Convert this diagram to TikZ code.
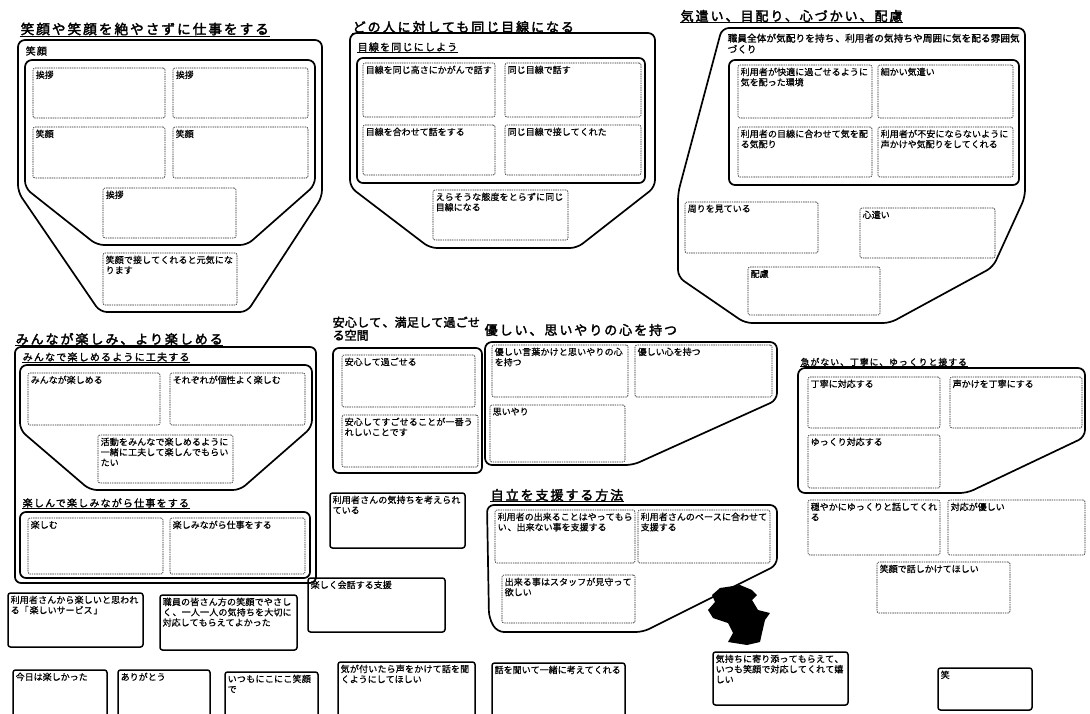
\documentclass[tikz,border=0pt]{standalone}
\usepackage{fontspec}
\newfontfamily\jt[FakeBold=2.5,LetterSpace=15]{Noto Sans CJK JP}
\newfontfamily\jl[FakeBold=1.5,LetterSpace=12]{Noto Sans CJK JP}
\newfontfamily\jb[FakeBold=0.6,LetterSpace=10]{Noto Sans CJK JP}
\XeTeXlinebreaklocale "ja"
\XeTeXlinebreakskip=0pt plus 1pt
\tikzset{
  thick outline/.style={line width=1.7pt,rounded corners=7pt},
  dbox/.style={draw=black!85,line width=0.65pt,dash pattern=on 1.4pt off 0.9pt,rounded corners=2pt,inner sep=0pt,outer sep=0pt},
  sbox/.style={draw=black,line width=1.5pt,rounded corners=2.5pt,inner sep=0pt,outer sep=0pt},
  btxt/.style={anchor=north west,inner sep=1pt,align=left,font=\jb\fontsize{9}{10.3}\selectfont},
  ttl/.style={anchor=west,inner sep=0.5pt,font=\jt\fontsize{13}{14}\selectfont},
  lbl/.style={anchor=west,inner sep=0.5pt,font=\jl\fontsize{10}{11.5}\selectfont},
  ul/.style={line width=0.7pt}
}
\newcommand\dbx[6]{%
  \node[dbox,minimum width=#4pt,minimum height=#5pt] (#1) at (#2+#4/2,#3+#5/2) {};
  \pgfmathsetmacro\tw{#4-5}%
  \node[btxt,text width=\tw pt] (#1t) at ([xshift=1.5pt,yshift=-1.5pt]#1.north west) {#6};}
\newcommand\sbx[6]{%
  \node[sbox,minimum width=#4pt,minimum height=#5pt] (#1) at (#2+#4/2,#3+#5/2) {};
  \pgfmathsetmacro\tw{#4-5}%
  \node[btxt,text width=\tw pt] (#1t) at ([xshift=1.5pt,yshift=-1.5pt]#1.north west) {#6};}
\begin{document}
\begin{tikzpicture}[x=1pt,y=-1pt]
\useasboundingbox (0,0) rectangle (1090,713);
\clip (0,0) rectangle (1090,713);
\fill[white] (0,0) rectangle (1090,713);

% ---------- Group 1 ----------
\node[ttl,font=\jt\fontsize{13.6}{14}\selectfont] (t1) at (20,29) {笑顔や笑顔を絶やさずに仕事をする};
\draw[ul] (t1.south west) -- (t1.south east);
\draw[thick outline] (18,40) -- (322,40) -- (322,197) -- (247,312) -- (100,312) -- (18,192) -- cycle;
\node[lbl] (l1) at (25,51) {笑顔};
\draw[thick outline] (25,60) -- (315,60) -- (315,185) -- (247,245) -- (97,245) -- (25,188) -- cycle;
\dbx{g1a}{33}{68}{132}{50}{挨拶}
\dbx{g1b}{173}{68}{135}{50}{挨拶}
\dbx{g1c}{33}{127}{132}{51}{笑顔}
\dbx{g1d}{173}{127}{135}{51}{笑顔}
\dbx{g1e}{103}{188}{133}{50}{挨拶}
\dbx{g1f}{103}{253}{134}{52}{笑顔で接してくれると元気になります}

% ---------- Group 2 ----------
\node[ttl] (t2) at (352,27) {どの人に対しても同じ目線になる};
\draw[ul] (t2.south west) -- (t2.south east);
\draw[thick outline] (350,33) -- (655,33) -- (655,187) -- (577,248) -- (430,248) -- (350,187) -- cycle;
\node[lbl] (l2) at (357,47) {目線を同じにしよう};
\draw[ul] (l2.south west) -- (l2.south east);
\draw[line width=1.7pt,rounded corners=6pt] (357,58) rectangle (645,183);
\dbx{g2a}{363}{63}{132}{54}{目線を同じ高さにかがんで話す}
\dbx{g2b}{505}{63}{136}{54}{同じ目線で話す}
\dbx{g2c}{363}{125}{132}{50}{目線を合わせて話をする}
\dbx{g2d}{505}{125}{136}{50}{同じ目線で接してくれた}
\dbx{g2e}{433}{190}{135}{50}{えらそうな態度をとらずに同じ目線になる}

% ---------- Group 3 ----------
\node[ttl] (t3) at (680,16) {気遣い、目配り、心づかい、配慮};
\draw[ul] (t3.south west) -- (t3.south east);
\draw[thick outline] (722,28) -- (1025,28) -- (1025,197) -- (993,267) -- (890,323) -- (745,323) -- (678,277) -- (678,193) -- cycle;
\node[lbl,anchor=north west,text width=294pt,align=left,font=\jl\fontsize{9.6}{11}\selectfont] (l3) at (727,33) {職員全体が気配りを持ち、利用者の気持ちや周囲に気を配る雰囲気づくり};
\draw[line width=1.7pt,rounded corners=6pt] (729,60) rectangle (1019,185);
\dbx{g3a}{738}{65}{134}{53}{利用者が快適に過ごせるように気を配った環境}
\dbx{g3b}{878}{65}{135}{53}{細かい気遣い}
\dbx{g3c}{738}{127}{134}{50}{利用者の目線に合わせて気を配る気配り}
\dbx{g3d}{878}{127}{135}{50}{利用者が不安にならないように声かけや気配りをしてくれる}
\dbx{g3e}{685}{202}{133}{51}{周りを見ている}
\dbx{g3f}{860}{208}{135}{50}{心遣い}
\dbx{g3g}{748}{267}{132}{48}{配慮}

% ---------- Group 4 ----------
\node[ttl] (t4) at (15,339) {みんなが楽しみ、より楽しめる};
\draw[ul] (t4.south west) -- (t4.south east);
\draw[line width=1.7pt,rounded corners=6pt] (15,347) rectangle (316,583);
\node[lbl] (l4a) at (22,357) {みんなで楽しめるように工夫する};
\draw[ul] (l4a.south west) -- (l4a.south east);
\draw[thick outline] (20,365) -- (312,365) -- (312,427) -- (240,490) -- (90,490) -- (20,430) -- cycle;
\dbx{g4a}{28}{373}{132}{52}{みんなが楽しめる}
\dbx{g4b}{170}{373}{135}{52}{それぞれが個性よく楽しむ}
\dbx{g4c}{98}{435}{135}{48}{活動をみんなで楽しめるように一緒に工夫して楽しんでもらいたい}
\node[lbl] (l4b) at (22,503) {楽しんで楽しみながら仕事をする};
\draw[ul] (l4b.south west) -- (l4b.south east);
\draw[line width=1.7pt,rounded corners=6pt] (20,512) rectangle (310,578);
\dbx{g4d}{28}{518}{135}{56}{楽しむ}
\dbx{g4e}{170}{518}{135}{56}{楽しみながら仕事をする}

% ---------- Group 5 ----------
\node[ttl,anchor=north west,text width=152pt,align=left,font=\jt\fontsize{12}{13}\selectfont] (t5) at (332,316) {安心して、満足して過ごせる空間};
\draw[line width=1.7pt,rounded corners=6pt] (333,348) rectangle (482,473);
\dbx{g5a}{342}{355}{133}{52}{安心して過ごせる}
\dbx{g5b}{342}{415}{136}{52}{安心してすごせることが一番うれしいことです}

% ---------- Group 6 ----------
\node[ttl] (t6) at (484,330) {優しい、思いやりの心を持つ};
\draw[thick outline] (485,342) -- (777,342) -- (777,400) -- (633,465) -- (485,465) -- cycle;
\dbx{g6a}{492}{345}{136}{52}{優しい言葉かけと思いやりの心を持つ}
\dbx{g6b}{635}{345}{137}{52}{優しい心を持つ}
\dbx{g6c}{490}{405}{135}{57}{思いやり}

% ---------- Group 7 ----------
\sbx{g7}{330}{493}{135}{55}{利用者さんの気持ちを考えられている}

% ---------- Group 8 ----------
\node[ttl] (t8) at (490,495) {自立を支援する方法};
\draw[ul] (t8.south west) -- (t8.south east);
\draw[thick outline] (487,505) -- (777,505) -- (777,565) -- (643,632) -- (497,632) -- (489,618) -- cycle;
\dbx{g8a}{495}{510}{140}{53}{利用者の出来ることはやってもらい、出来ない事を支援する}
\dbx{g8b}{638}{510}{132}{53}{利用者さんのペースに合わせて支援する}
\dbx{g8c}{502}{575}{133}{48}{出来る事はスタッフが見守って欲しい}

% arrow blob
\fill[black] (720,588) -- (740,585) -- (752,590) -- (757,595) -- (752,600) -- (758,610) -- (770,613) -- (765,620) -- (762,633) -- (760,642) -- (747,645) -- (728,642) -- (733,633) -- (728,623) -- (713,618) -- (708,610) -- (715,602) -- (712,595) -- cycle;

% ---------- Group 9 ----------
\node[lbl,font=\jl\fontsize{8.8}{10}\selectfont] (t9) at (800,362) {急がない、丁寧に、ゆっくりと接する};
\draw[ul] (t9.south west) -- (t9.south east);
\draw[thick outline] (798,368) -- (1085,368) -- (1085,437) -- (967,493) -- (798,493) -- cycle;
\dbx{g9a}{808}{377}{132}{51}{丁寧に対応する}
\dbx{g9b}{950}{377}{132}{51}{声かけを丁寧にする}
\dbx{g9c}{808}{435}{132}{53}{ゆっくり対応する}
\dbx{g9d}{808}{500}{132}{55}{穏やかにゆっくりと話してくれる}
\dbx{g9e}{948}{500}{137}{55}{対応が優しい}
\dbx{g9f}{877}{562}{133}{51}{笑顔で話しかけてほしい}

% ---------- bottom boxes ----------
\sbx{b1}{8}{593}{135}{54}{利用者さんから楽しいと思われる「楽しいサービス」}
\sbx{b2}{160}{595}{137}{55}{職員の皆さん方の笑顔でやさしく、一人一人の気持ちを大切に対応してもらえてよかった}
\sbx{b3}{308}{578}{137}{54}{楽しく会話する支援}
\sbx{b4}{13}{670}{94}{50}{今日は楽しかった}
\sbx{b5}{118}{670}{92}{50}{ありがとう}
\sbx{b6}{225}{672}{93}{50}{いつもにこにこ笑顔で}
\sbx{b7}{338}{662}{137}{60}{気が付いたら声をかけて話を聞くようにしてほしい}
\sbx{b8}{492}{663}{133}{60}{話を聞いて一緒に考えてくれる}
\sbx{b9}{713}{652}{135}{53}{気持ちに寄り添ってもらえて、いつも笑顔で対応してくれて嬉しい}
\sbx{b10}{938}{668}{94}{42}{笑}
\end{tikzpicture}
\end{document}
